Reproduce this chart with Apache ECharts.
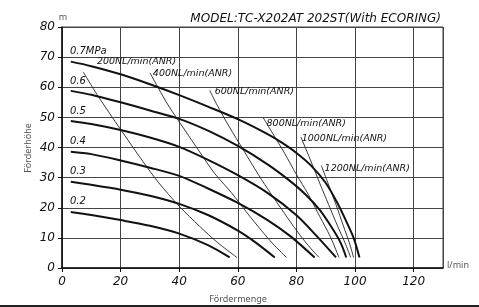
<!DOCTYPE html>
<html>
<head>
<meta charset="utf-8">
<script src="https://cdn.jsdelivr.net/npm/echarts@6/dist/echarts.min.js"></script>
<style>
  html, body { margin: 0; padding: 0; background: #fff; }
  #chart { width: 479px; height: 307px; }
</style>
</head>
<body>
<div id="chart"></div>
<script>
// pressure curves (head m vs flow l/min)
const pressureNames = ["0.7MPa", "0.6", "0.5", "0.4", "0.3", "0.2"];
const p07 = [[3, 68.5], [10, 67], [20, 64.3], [30, 61], [40, 57.4], [50, 53.5], [60, 49.4], [70, 44.5], [75, 41.6], [80, 38.2], [85, 34], [90, 28.2], [94, 21.5], [97, 15.5], [99.5, 10], [101.5, 3.5]];
const p06 = [[3, 58.8], [10, 57.5], [20, 55], [30, 52.3], [40, 49.5], [50, 45.5], [60, 40.5], [70, 34.5], [77, 29.5], [83, 24.5], [88, 19.2], [92, 13.5], [95, 8.5], [97, 3.5]];
const p05 = [[3, 48.8], [10, 47.8], [20, 45.8], [30, 43.3], [40, 40.2], [50, 35.8], [60, 30.8], [70, 25], [80, 17.5], [87, 10.5], [93.5, 3.5]];
const p04 = [[3, 38.6], [10, 37.8], [20, 35.7], [30, 33.3], [40, 30.6], [50, 26.3], [60, 21.6], [70, 16], [78, 10.5], [86.2, 3.5]];
const p03 = [[3, 28.6], [10, 27.6], [20, 26], [30, 24], [40, 21.3], [50, 17.5], [60, 12.4], [66, 8.5], [72.6, 3.5]];
const p02 = [[3, 18.6], [10, 17.6], [20, 15.9], [30, 14], [40, 11.4], [50, 7.5], [57.2, 3.5]];

// air consumption lines
const airNames = ["200NL/min(ANR)", "400NL/min(ANR)", "600NL/min(ANR)", "800NL/min(ANR)", "1000NL/min(ANR)", "1200NL/min(ANR)"];
const a200 = [[7.3, 65], [12, 57.5], [20, 46], [27.5, 35.5], [33, 28.3], [40, 20.5], [47, 13.8], [53, 8.5], [59.7, 3.5]];
const a400 = [[30, 64.8], [33, 59.5], [36.2, 54.1], [41.9, 45.8], [47, 38.5], [52, 31.5], [57.8, 25], [63, 18.5], [68, 12.5], [72, 8], [76.6, 3.5]];
const a600 = [[50.4, 59], [52.7, 54.5], [57, 47], [62, 39], [67, 31], [71.4, 24.5], [76, 18], [80, 12.5], [84, 7.5], [87.7, 3.5]];
const a800 = [[68.6, 50], [72, 44.5], [76, 38], [80, 31], [84, 24.5], [88, 17], [91.5, 10.5], [94.5, 3.5]];
const a1000 = [[81.5, 43.5], [84.5, 36.5], [88, 28], [91, 21], [94, 14], [96.5, 8.5], [98.5, 3.5]];
const a1200 = [[88.5, 34], [91, 27.5], [93.5, 21], [96, 14], [98, 8.5], [99.5, 3.5]];

(() => {
  const chart = echarts.init(document.querySelector("#chart"));
  const pressureCurves = [p07, p06, p05, p04, p03, p02];
  const airLines = [a200, a400, a600, a800, a1000, a1200];
  const techFont = "DejaVu Sans";

  const series = [];
  pressureCurves.forEach((d, i) => {
    series.push({
      name: pressureNames[i],
      type: "line",
      data: d,
      smooth: 0.3,
      symbol: "none",
      lineStyle: { color: "#111", width: 2 },
      z: 4,
    });
  });
  airLines.forEach((d, i) => {
    series.push({
      name: airNames[i],
      type: "line",
      data: d,
      smooth: 0.3,
      symbol: "none",
      lineStyle: { color: "#222", width: 0.9 },
      z: 3,
    });
  });

  let option = {
    animation: false,
    title: {
      text: "MODEL:TC-X202AT 202ST(With ECORING)",
      right: 33,
      top: 8,
      textStyle: {
        fontFamily: techFont,
        fontStyle: "italic",
        fontWeight: "normal",
        fontSize: 12,
        color: "#111",
      },
    },
    grid: {
      left: 62,
      right: 36,
      top: 27,
      bottom: 39,
      show: true,
      borderColor: "#444",
      borderWidth: 1,
    },
    xAxis: {
      type: "value",
      min: 0,
      max: 130,
      interval: 20,
      axisLine: { lineStyle: { color: "#111", width: 1.5 } },
      axisTick: { show: true, length: 4, lineStyle: { color: "#111" } },
      axisLabel: {
        showMaxLabel: false,
        margin: 8,
        fontFamily: techFont,
        fontStyle: "italic",
        fontSize: 12,
        color: "#111",
      },
      splitLine: { lineStyle: { color: "#444", width: 1 } },
    },
    yAxis: {
      type: "value",
      min: 0,
      max: 80,
      interval: 10,
      axisLine: { show: true, lineStyle: { color: "#111", width: 1.5 } },
      axisTick: { show: true, length: 4, lineStyle: { color: "#111" } },
      axisLabel: {
        margin: 7,
        fontFamily: techFont,
        fontStyle: "italic",
        fontSize: 12,
        color: "#111",
      },
      splitLine: { lineStyle: { color: "#444", width: 1 } },
    },
    series: series,
  };
  chart.setOption(option);

  // curve labels, anchored in data coordinates
  const pressureAnchors = [[2.7, 70], [2.7, 60], [2.7, 50], [2.7, 40], [2.7, 30], [2.7, 20]];
  const airAnchors = [[11.9, 68.5], [31, 64.5], [52.1, 58.6], [69.8, 47.8], [81.8, 42.9], [89.6, 33]];
  const graphics = [];
  pressureNames.forEach((t, i) => {
    const p = chart.convertToPixel({ gridIndex: 0 }, pressureAnchors[i]);
    graphics.push({
      type: "text",
      x: p[0],
      y: p[1] - 1,
      style: {
        text: t,
        font: "italic 10px '" + techFont + "'",
        fill: "#111",
        align: "left",
        verticalAlign: "bottom",
      },
      z: 10,
    });
  });
  airNames.forEach((t, i) => {
    const p = chart.convertToPixel({ gridIndex: 0 }, airAnchors[i]);
    graphics.push({
      type: "text",
      x: p[0],
      y: p[1],
      style: {
        text: t,
        font: "italic 9.5px '" + techFont + "'",
        fill: "#111",
        align: "left",
        verticalAlign: "middle",
      },
      z: 10,
    });
  });
  const nameStyle = { fill: "#555", font: "9px 'Noto Sans'" };
  graphics.push(
    { type: "text", x: 63, y: 17, style: Object.assign({ text: "m", align: "center", verticalAlign: "middle" }, nameStyle) },
    { type: "text", x: 447, y: 265, style: Object.assign({ text: "l/min", align: "left", verticalAlign: "middle" }, nameStyle) },
    { type: "text", x: 238, y: 299, style: Object.assign({ text: "Fördermenge", align: "center", verticalAlign: "middle" }, nameStyle) },
    { type: "text", x: 28, y: 148, rotation: Math.PI / 2, style: Object.assign({ text: "Förderhöhe", align: "center", verticalAlign: "middle" }, nameStyle) },
    { type: "rect", shape: { x: 0, y: 305, width: 479, height: 2 }, style: { fill: "#222" } }
  );
  chart.setOption({ graphic: graphics });

  window.addEventListener("resize", () => {
    chart.resize();
  });
})();
</script>
</body>
</html>
